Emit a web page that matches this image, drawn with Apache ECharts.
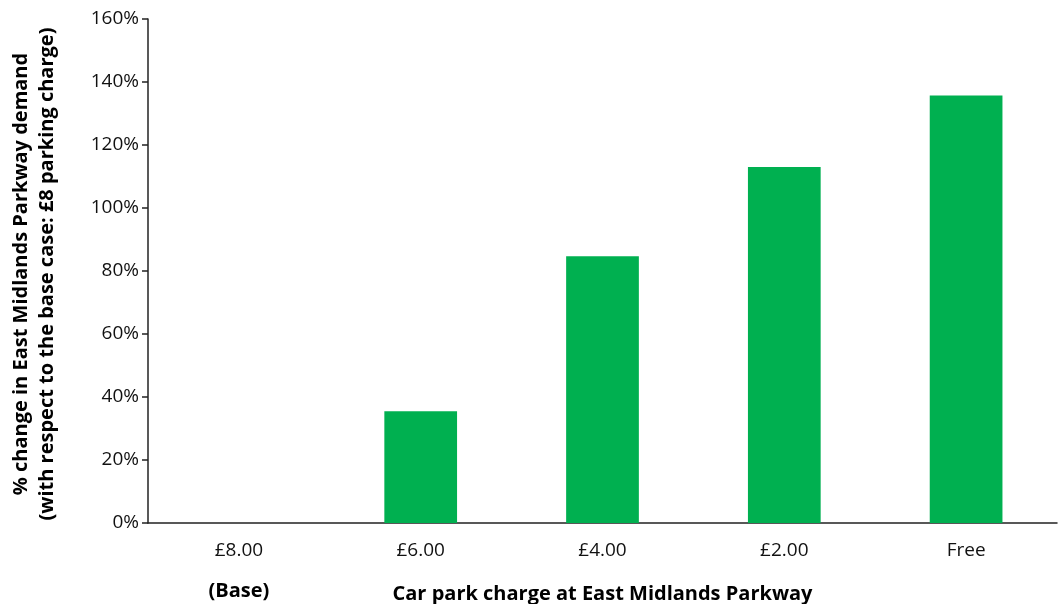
<!DOCTYPE html>
<html>
<head>
<meta charset="utf-8">
<script src="https://cdn.jsdelivr.net/npm/echarts@6/dist/echarts.min.js"></script>
<style>
  html, body { margin: 0; padding: 0; background: #fff; }
  #chart { width: 1059px; height: 604px; }
</style>
</head>
<body>
<div id="chart"></div>
<script>
// data
const categories = ['£8.00', '£6.00', '£4.00', '£2.00', 'Free'];
const demandChange = [0, 35.5, 84.7, 113.0, 135.7]; // % change vs base
const yTicks = [0, 20, 40, 60, 80, 100, 120, 140, 160];

const xTitle = 'Car park charge at East Midlands Parkway';
const yTitleLines = ['% change in East Midlands Parkway demand', '(with respect to the base case: £8 parking charge)'];
const baseNote = '(Base)';

const font = 'Open Sans';
const chart = echarts.init(document.getElementById('chart'));

const option = {
  animation: false,
  grid: { left: 148, right: 2, top: 19, bottom: 81, outerBoundsMode: 'none', containLabel: false },
  xAxis: {
    type: 'category',
    data: categories,
    name: xTitle,
    nameLocation: 'middle',
    nameGap: 61,
    nameTextStyle: { fontFamily: font, fontSize: 20, fontWeight: 'bold', color: '#000' },
    axisLine: { lineStyle: { color: '#222', width: 1.5 } },
    axisTick: { show: false },
    axisLabel: { fontFamily: font, fontSize: 19, color: '#111', margin: 18 }
  },
  yAxis: {
    type: 'value',
    min: yTicks[0],
    max: yTicks[yTicks.length - 1],
    interval: yTicks[1] - yTicks[0],
    axisLine: { show: true, lineStyle: { color: '#222', width: 1.5 } },
    axisTick: { show: true, inside: false, length: 6, lineStyle: { color: '#222', width: 1.5 } },
    splitLine: { show: false },
    axisLabel: { fontFamily: font, fontSize: 19, color: '#111', margin: 9, formatter: '{value}%' }
  },
  series: [
    {
      type: 'bar',
      data: demandChange,
      barWidth: '40%',
      itemStyle: { color: '#00b050' }
    }
  ]
};
chart.setOption(option);

// extra texts: y title (two lines) and "(Base)" under £8.00
const baseX = chart.convertToPixel({ xAxisIndex: 0 }, categories[0]);
chart.setOption({
  graphic: [
    {
      type: 'text',
      x: 34, y: 274,
      rotation: Math.PI / 2,
      style: {
        text: yTitleLines.join('\n'),
        fontFamily: font, fontSize: 20, fontWeight: 'bold', fill: '#000',
        align: 'center', verticalAlign: 'middle', lineHeight: 26
      }
    },
    {
      type: 'text',
      x: baseX, y: 591,
      style: {
        text: baseNote,
        fontFamily: font, fontSize: 20, fontWeight: 'bold', fill: '#000',
        align: 'center', verticalAlign: 'middle'
      }
    }
  ]
});
</script>
</body>
</html>
